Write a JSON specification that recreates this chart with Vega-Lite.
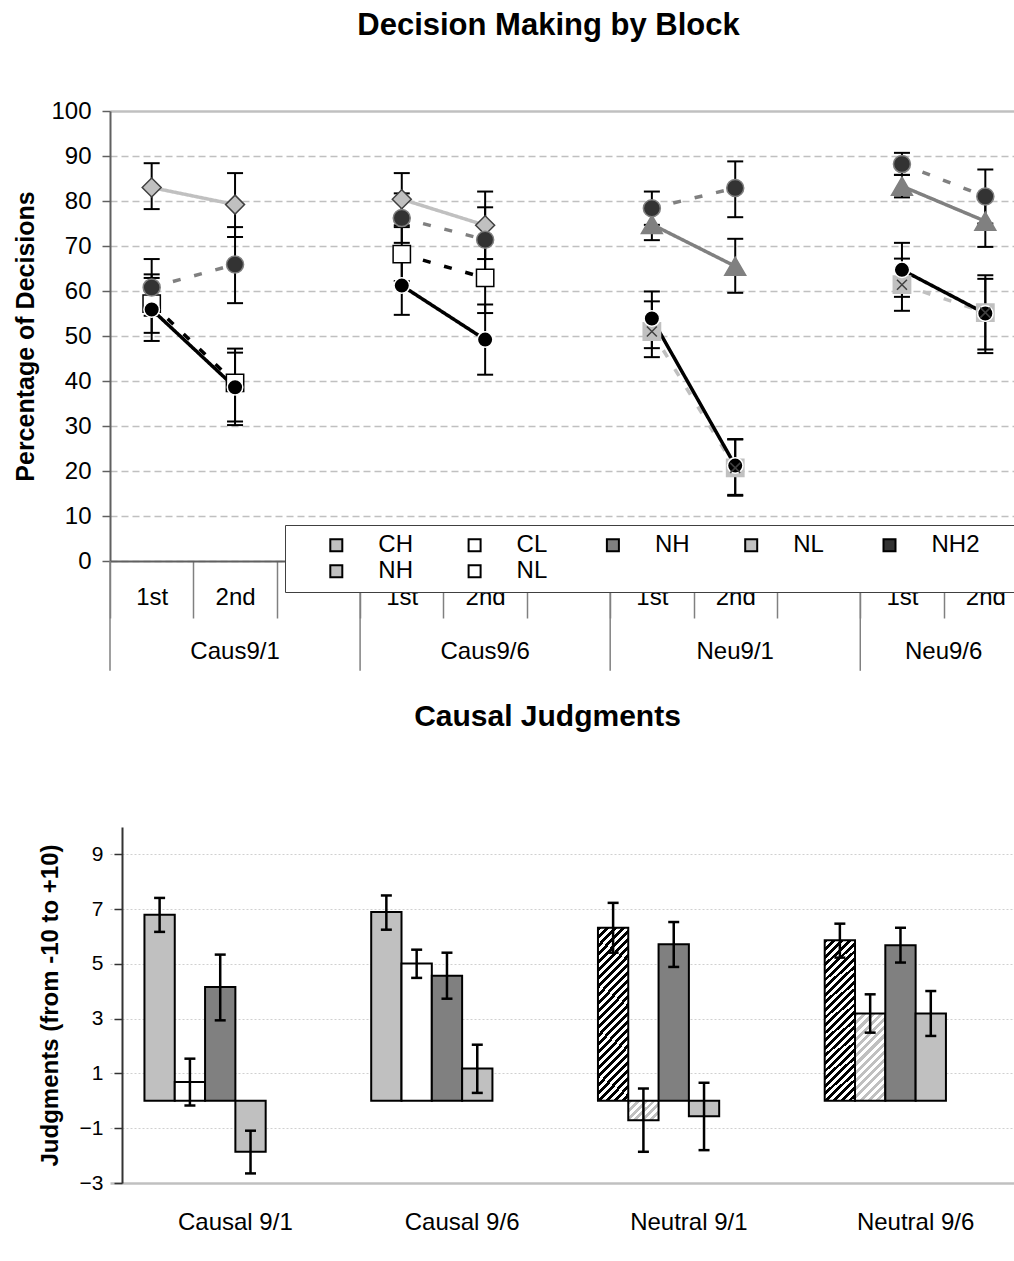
{
"$schema":"https://vega.github.io/schema/vega-lite/v6.json",
"usermeta":{"embedOptions":{"actions":false}},
"padding":{"left":13,"top":10,"right":0,"bottom":0},
"spacing":30,
"datasets":{
"decisions":[
{"condition":"Caus9/1","block":"1st","slot":"Caus9/1 1st","series":"CH","value":83.0,"lo":78.2,"hi":88.4},
{"condition":"Caus9/1","block":"2nd","slot":"Caus9/1 2nd","series":"CH","value":79.2,"lo":72.0,"hi":86.2},
{"condition":"Caus9/6","block":"1st","slot":"Caus9/6 1st","series":"CH","value":80.4,"lo":74.6,"hi":86.2},
{"condition":"Caus9/6","block":"2nd","slot":"Caus9/6 2nd","series":"CH","value":74.6,"lo":67.1,"hi":82.1},
{"condition":"Caus9/1","block":"1st","slot":"Caus9/1 1st","series":"CL","value":57.2,"lo":50.7,"hi":63.7},
{"condition":"Caus9/1","block":"2nd","slot":"Caus9/1 2nd","series":"CL","value":39.6,"lo":31.0,"hi":47.2},
{"condition":"Caus9/6","block":"1st","slot":"Caus9/6 1st","series":"CL","value":68.2,"lo":62.2,"hi":74.2},
{"condition":"Caus9/6","block":"2nd","slot":"Caus9/6 2nd","series":"CL","value":62.9,"lo":55.1,"hi":70.7},
{"condition":"Neu9/1","block":"1st","slot":"Neu9/1 1st","series":"NH","value":74.8,"lo":71.3,"hi":78.3},
{"condition":"Neu9/1","block":"2nd","slot":"Neu9/1 2nd","series":"NH","value":65.5,"lo":59.6,"hi":71.6},
{"condition":"Neu9/6","block":"1st","slot":"Neu9/6 1st","series":"NH","value":83.3,"lo":80.8,"hi":85.8},
{"condition":"Neu9/6","block":"2nd","slot":"Neu9/6 2nd","series":"NH","value":75.5,"lo":69.8,"hi":81.2},
{"condition":"Neu9/1","block":"1st","slot":"Neu9/1 1st","series":"NL","value":51.0,"lo":45.3,"hi":57.7},
{"condition":"Neu9/1","block":"2nd","slot":"Neu9/1 2nd","series":"NL","value":20.7,"lo":14.5,"hi":27.0},
{"condition":"Neu9/6","block":"1st","slot":"Neu9/6 1st","series":"NL","value":61.4,"lo":55.6,"hi":67.2},
{"condition":"Neu9/6","block":"2nd","slot":"Neu9/6 2nd","series":"NL","value":55.2,"lo":46.2,"hi":62.7},
{"condition":"Caus9/1","block":"1st","slot":"Caus9/1 1st","series":"NH2","value":60.8,"lo":54.5,"hi":67.1},
{"condition":"Caus9/1","block":"2nd","slot":"Caus9/1 2nd","series":"NH2","value":65.9,"lo":57.3,"hi":74.2},
{"condition":"Caus9/6","block":"1st","slot":"Caus9/6 1st","series":"NH2","value":76.2,"lo":70.7,"hi":81.7},
{"condition":"Caus9/6","block":"2nd","slot":"Caus9/6 2nd","series":"NH2","value":71.4,"lo":64.2,"hi":78.6},
{"condition":"Neu9/1","block":"1st","slot":"Neu9/1 1st","series":"NH2","value":78.4,"lo":74.7,"hi":82.1},
{"condition":"Neu9/1","block":"2nd","slot":"Neu9/1 2nd","series":"NH2","value":82.9,"lo":76.4,"hi":88.8},
{"condition":"Neu9/6","block":"1st","slot":"Neu9/6 1st","series":"NH2","value":88.2,"lo":85.8,"hi":90.7},
{"condition":"Neu9/6","block":"2nd","slot":"Neu9/6 2nd","series":"NH2","value":81.0,"lo":75.0,"hi":87.0},
{"condition":"Caus9/1","block":"1st","slot":"Caus9/1 1st","series":"NL2","value":55.9,"lo":48.9,"hi":62.9},
{"condition":"Caus9/1","block":"2nd","slot":"Caus9/1 2nd","series":"NL2","value":38.6,"lo":30.2,"hi":46.3},
{"condition":"Caus9/6","block":"1st","slot":"Caus9/6 1st","series":"NL2","value":61.2,"lo":54.7,"hi":67.7},
{"condition":"Caus9/6","block":"2nd","slot":"Caus9/6 2nd","series":"NL2","value":49.2,"lo":41.4,"hi":57.0},
{"condition":"Neu9/1","block":"1st","slot":"Neu9/1 1st","series":"NL2","value":53.9,"lo":47.3,"hi":59.9},
{"condition":"Neu9/1","block":"2nd","slot":"Neu9/1 2nd","series":"NL2","value":21.2,"lo":14.7,"hi":27.1},
{"condition":"Neu9/6","block":"1st","slot":"Neu9/6 1st","series":"NL2","value":64.7,"lo":58.7,"hi":70.7},
{"condition":"Neu9/6","block":"2nd","slot":"Neu9/6 2nd","series":"NL2","value":55.0,"lo":47.0,"hi":63.5}
],
"judgments":[
{"group":"Causal 9/1","series":"CH","slot":1,"value":6.80,"lo":6.17,"hi":7.41},
{"group":"Causal 9/1","series":"CL","slot":2,"value":0.69,"lo":-0.17,"hi":1.54},
{"group":"Causal 9/1","series":"NH","slot":3,"value":4.16,"lo":2.94,"hi":5.34},
{"group":"Causal 9/1","series":"NL","slot":4,"value":-1.86,"lo":-2.65,"hi":-1.09},
{"group":"Causal 9/6","series":"CH","slot":1,"value":6.90,"lo":6.25,"hi":7.50},
{"group":"Causal 9/6","series":"CL","slot":2,"value":5.02,"lo":4.49,"hi":5.52},
{"group":"Causal 9/6","series":"NH","slot":3,"value":4.57,"lo":3.73,"hi":5.41},
{"group":"Causal 9/6","series":"NL","slot":4,"value":1.18,"lo":0.29,"hi":2.05},
{"group":"Neutral 9/1","series":"NH*","slot":1,"value":6.32,"lo":5.41,"hi":7.23},
{"group":"Neutral 9/1","series":"NL*","slot":2,"value":-0.71,"lo":-1.86,"hi":0.45},
{"group":"Neutral 9/1","series":"NH","slot":3,"value":5.72,"lo":4.89,"hi":6.53},
{"group":"Neutral 9/1","series":"NL","slot":4,"value":-0.56,"lo":-1.80,"hi":0.66},
{"group":"Neutral 9/6","series":"NH*","slot":1,"value":5.86,"lo":5.23,"hi":6.47},
{"group":"Neutral 9/6","series":"NL*","slot":2,"value":3.19,"lo":2.49,"hi":3.89},
{"group":"Neutral 9/6","series":"NH","slot":3,"value":5.68,"lo":5.05,"hi":6.32},
{"group":"Neutral 9/6","series":"NL","slot":4,"value":3.19,"lo":2.37,"hi":4.01}
]
},
"vconcat":[
{
"data":{"name":"decisions"},
"width":917,"height":450,
"title":{"text":"Decision Making by Block","fontSize":31,"fontWeight":"bold","color":"black","anchor":"middle","dx":-20,"offset":33,"baseline":"alphabetic","frame":"group"},
"encoding":{
"x":{"field":"slot","type":"nominal","title":null,
"scale":{"type":"band","domain":["Caus9/1 1st","Caus9/1 2nd","Caus9/1","Caus9/6 1st","Caus9/6 2nd","Caus9/6","Neu9/1 1st","Neu9/1 2nd","Neu9/1","Neu9/6 1st","Neu9/6 2nd"],"paddingInner":0,"paddingOuter":0},
"axis":{"orient":"bottom","tickBand":"extent","tickSize":57,"tickColor":"#808080","tickWidth":1.5,"domainColor":"#606060","domainWidth":2,"labelExpr":"isString(datum.label) && indexof(datum.label, ' ') > 0 ? split(datum.label, ' ')[1] : ''","labelAngle":0,"labelPadding":-21,"labelBaseline":"middle","labelFontSize":24,"labelColor":"black","grid":false,"labelOverlap":false}}
},
"layer":[
{"mark":{"type":"rule","color":"black","strokeWidth":2},
"encoding":{"y":{"field":"lo","type":"quantitative","scale":{"domain":[0,100],"nice":false},
"axis":{"title":"Percentage of Decisions","titleFontSize":25,"titleFontWeight":"bold","titleColor":"black","titlePadding":12,"values":[0,10,20,30,40,50,60,70,80,90,100],"labelFontSize":24,"labelColor":"black","labelPadding":11,"tickSize":8,"tickColor":"#606060","tickWidth":1.5,"domainColor":"#606060","domainWidth":2,"grid":true,"gridColor":"#c0c0c0","gridDash":{"condition":{"test":"datum.value === 100","value":[]},"value":[7,4]},"gridWidth":{"condition":{"test":"datum.value === 100","value":2.5},"value":1.5}}},
"y2":{"field":"hi"}}},
{"mark":{"type":"tick","orient":"horizontal","color":"black","size":16,"thickness":2,"opacity":1},"encoding":{"y":{"field":"lo","type":"quantitative"}}},
{"mark":{"type":"tick","orient":"horizontal","color":"black","size":16,"thickness":2,"opacity":1},"encoding":{"y":{"field":"hi","type":"quantitative"}}},
{"mark":{"type":"line","strokeWidth":3.5},
"encoding":{"y":{"field":"value","type":"quantitative"},
"detail":{"field":"condition","type":"nominal"},
"strokeDash":{"field":"series","type":"nominal","scale":{"domain":["CH","CL","NH","NL","NH2","NL2"],"range":[[1,0],[8,14],[1,0],[8,14],[8,14],[1,0]]},"legend":null},
"color":{"field":"series","type":"nominal","scale":{"domain":["CH","CL","NH","NL","NH2","NL2"],"range":["#c0c0c0","#000000","#808080","#c0c0c0","#808080","#000000"]},"legend":null}}},
{"mark":{"type":"point","filled":true,"opacity":1,"strokeWidth":1.5},
"encoding":{"y":{"field":"value","type":"quantitative"},
"shape":{"condition":[
{"test":"datum.series === 'CH'","value":"diamond"},
{"test":"datum.series === 'CL' || datum.series === 'NL'","value":"square"},
{"test":"datum.series === 'NH'","value":"triangle-up"}
],"value":"circle"},
"fill":{"condition":[
{"test":"datum.series === 'CH' || datum.series === 'NL'","value":"#c0c0c0"},
{"test":"datum.series === 'CL'","value":"#ffffff"},
{"test":"datum.series === 'NH'","value":"#808080"},
{"test":"datum.series === 'NH2'","value":"#333333"}
],"value":"#000000"},
"stroke":{"condition":[
{"test":"datum.series === 'CH'","value":"#404040"},
{"test":"datum.series === 'CL'","value":"#000000"},
{"test":"datum.series === 'NH' || datum.series === 'NH2'","value":"#808080"},
{"test":"datum.series === 'NL'","value":"#c0c0c0"}
],"value":"#ffffff"},
"size":{"condition":[
{"test":"datum.series === 'CH'","value":360},
{"test":"datum.series === 'NH'","value":440},
{"test":"datum.series === 'NH2'","value":290},
{"test":"datum.series === 'NL2'","value":240}
],"value":300}}},
{"transform":[{"filter":"datum.series === 'NL'"}],
"mark":{"type":"point","shape":"M-1,-1L1,1M1,-1L-1,1","size":100,"filled":false,"stroke":"#404040","strokeWidth":1.5,"opacity":1},
"encoding":{"y":{"field":"value","type":"quantitative"}}},
{"mark":{"type":"point","filled":true,"opacity":0},
"encoding":{"y":{"field":"value","type":"quantitative"},
"shape":{"field":"series","type":"nominal","scale":{"domain":["CH","CL","NH","NL","NH2","NL2"],"range":[
"M-8.3,0H-1.6M1.6,0H8.3M0,-1.6L1.6,0L0,1.6L-1.6,0Z",
"M-8,0H-6.4M-3.4,0H-1.3M1.3,0H3.4M6.4,0H8M-1.3,-1.3H1.3V1.3H-1.3Z",
"M-8.3,0H8.3M0,-1.5L1.8,1.5L-1.8,1.5Z",
"M-8,0H-6.4M-3.4,0H-1.8M1.8,0H3.4M6.4,0H8M-1.8,-1.8H1.8V1.8H-1.8Z",
"M-8,0H-6.4M-3.4,0H-1.5M1.5,0H3.4M6.4,0H8M1.5,0L1.3,0.75L0.75,1.3L0,1.5L-0.75,1.3L-1.3,0.75L-1.5,0L-1.3,-0.75L-0.75,-1.3L0,-1.5L0.75,-1.3L1.3,-0.75Z",
"M-8.3,0H8.3M1.2,0L1.04,0.6L0.6,1.04L0,1.2L-0.6,1.04L-1.04,0.6L-1.2,0L-1.04,-0.6L-0.6,-1.04L0,-1.2L0.6,-1.04L1.04,-0.6Z"]},
"legend":{"orient":"none","legendX":-5,"legendY":569,"direction":"horizontal","columns":6,"title":null,"labelExpr":"replace(datum.label, '2', '')","labelFontSize":24,"labelColor":"black","labelOffset":73.7,"labelLimit":200,"symbolSize":100,"symbolStrokeWidth":3,"symbolOpacity":1,"symbolOffset":38.2,"columnPadding":21,"gridAlign":"all","padding":11,"strokeColor":"#404040","fillColor":"white"}},
"fill":{"field":"series","type":"nominal","scale":{"domain":["CH","CL","NH","NL","NH2","NL2"],"range":["#c0c0c0","#ffffff","#808080","#c0c0c0","#333333","#000000"]}},
"stroke":{"field":"series","type":"nominal","scale":{"domain":["CH","CL","NH","NL","NH2","NL2"],"range":["#c0c0c0","#000000","#808080","#c0c0c0","#808080","#000000"]}}}},
{"transform":[{"filter":"datum.block === '1st' && datum.series === 'NL2'"}],
"mark":{"type":"rule","color":"#808080","strokeWidth":1.5},
"encoding":{"x":{"field":"slot","type":"nominal","bandPosition":0},"y":{"datum":0,"type":"quantitative"},"y2":{"datum":-24.4}}},
{"transform":[{"filter":"datum.block === '2nd' && datum.series === 'NL2' && datum.condition !== 'Neu9/6'"}],
"mark":{"type":"text","fontSize":24,"baseline":"middle","align":"center","color":"black"},
"encoding":{"y":{"datum":-20.2,"type":"quantitative"},"text":{"field":"condition","type":"nominal"}}},
{"transform":[{"filter":"datum.block === '2nd' && datum.series === 'NL2' && datum.condition === 'Neu9/6'"}],
"mark":{"type":"text","fontSize":24,"baseline":"middle","align":"center","color":"black"},
"encoding":{"x":{"field":"slot","type":"nominal","bandPosition":0},"y":{"datum":-20.2,"type":"quantitative"},"text":{"field":"condition","type":"nominal"}}}
]
},
{
"data":{"name":"judgments"},
"width":931,"height":356,
"title":{"text":"Causal Judgments","fontSize":30,"fontWeight":"bold","color":"black","anchor":"middle","dx":-28,"offset":71,"baseline":"alphabetic","frame":"group"},
"encoding":{
"x":{"field":"group","type":"nominal","title":null,
"scale":{"type":"band","domain":["Causal 9/1","Causal 9/6","Neutral 9/1","Neutral 9/6"],"paddingInner":0,"paddingOuter":0.0529},
"axis":{"orient":"bottom","domain":false,"ticks":false,"tickSize":0,"labelAngle":0,"labelFontSize":24,"labelColor":"black","labelPadding":39,"labelBaseline":"middle","grid":false}},
"xOffset":{"field":"slot","type":"ordinal","scale":{"domain":[1,2,3,4,5,6],"paddingInner":0,"paddingOuter":0.741}}
},
"layer":[
{"mark":{"type":"bar","stroke":"black","strokeWidth":2,"opacity":1},
"encoding":{
"y":{"field":"value","type":"quantitative","scale":{"domain":[-3,10],"nice":false,"zero":false},
"axis":{"title":"Judgments (from -10 to +10)","titleFontSize":24,"titleFontWeight":"bold","titleColor":"black","titlePadding":17,"values":[-3,-2,-1,0,1,2,3,4,5,6,7,8,9,10],"labelFontSize":21,"labelColor":"black","labelPadding":11,"tickSize":8,"tickColor":"#333333","tickWidth":1.5,"domainColor":"#333333","domainWidth":2,"offset":-12,"grid":true,
"gridColor":{"condition":[{"test":"datum.value === 0","value":"#000000"},{"test":"datum.value === 10 || datum.value === -3","value":"#c0c0c0"}],"value":"#d0d0d0"},
"gridDash":{"condition":{"test":"datum.value === 0 || datum.value === 10 || datum.value === -3","value":[]},"value":[2,2]},
"gridWidth":{"condition":[{"test":"datum.value === 0","value":1.5},{"test":"datum.value === 10 || datum.value === -3","value":2.5}],"value":1}}},
"fill":{"field":"series","type":"nominal",
"scale":{"domain":["CH","CL","NH","NL","NH*","NL*"],"range":["#333333","#c0c0c0","#808080","#ffffff","#555555","#d8d8d8"]},
"condition":[
{"test":"datum.series === 'NH*'","value":{"gradient":"linear","x1":0,"y1":0,"x2":0.208,"y2":1.144,"stops":[{"offset":0,"color":"#000"},{"offset":0.02,"color":"#000"},{"offset":0.02,"color":"#fff"},{"offset":0.04,"color":"#fff"},{"offset":0.04,"color":"#000"},{"offset":0.06,"color":"#000"},{"offset":0.06,"color":"#fff"},{"offset":0.08,"color":"#fff"},{"offset":0.08,"color":"#000"},{"offset":0.1,"color":"#000"},{"offset":0.1,"color":"#fff"},{"offset":0.12,"color":"#fff"},{"offset":0.12,"color":"#000"},{"offset":0.14,"color":"#000"},{"offset":0.14,"color":"#fff"},{"offset":0.16,"color":"#fff"},{"offset":0.16,"color":"#000"},{"offset":0.18,"color":"#000"},{"offset":0.18,"color":"#fff"},{"offset":0.2,"color":"#fff"},{"offset":0.2,"color":"#000"},{"offset":0.22,"color":"#000"},{"offset":0.22,"color":"#fff"},{"offset":0.24,"color":"#fff"},{"offset":0.24,"color":"#000"},{"offset":0.26,"color":"#000"},{"offset":0.26,"color":"#fff"},{"offset":0.28,"color":"#fff"},{"offset":0.28,"color":"#000"},{"offset":0.3,"color":"#000"},{"offset":0.3,"color":"#fff"},{"offset":0.32,"color":"#fff"},{"offset":0.32,"color":"#000"},{"offset":0.34,"color":"#000"},{"offset":0.34,"color":"#fff"},{"offset":0.36,"color":"#fff"},{"offset":0.36,"color":"#000"},{"offset":0.38,"color":"#000"},{"offset":0.38,"color":"#fff"},{"offset":0.4,"color":"#fff"},{"offset":0.4,"color":"#000"},{"offset":0.42,"color":"#000"},{"offset":0.42,"color":"#fff"},{"offset":0.44,"color":"#fff"},{"offset":0.44,"color":"#000"},{"offset":0.46,"color":"#000"},{"offset":0.46,"color":"#fff"},{"offset":0.48,"color":"#fff"},{"offset":0.48,"color":"#000"},{"offset":0.5,"color":"#000"},{"offset":0.5,"color":"#fff"},{"offset":0.52,"color":"#fff"},{"offset":0.52,"color":"#000"},{"offset":0.54,"color":"#000"},{"offset":0.54,"color":"#fff"},{"offset":0.56,"color":"#fff"},{"offset":0.56,"color":"#000"},{"offset":0.58,"color":"#000"},{"offset":0.58,"color":"#fff"},{"offset":0.6,"color":"#fff"},{"offset":0.6,"color":"#000"},{"offset":0.62,"color":"#000"},{"offset":0.62,"color":"#fff"},{"offset":0.64,"color":"#fff"},{"offset":0.64,"color":"#000"},{"offset":0.66,"color":"#000"},{"offset":0.66,"color":"#fff"},{"offset":0.68,"color":"#fff"},{"offset":0.68,"color":"#000"},{"offset":0.7,"color":"#000"},{"offset":0.7,"color":"#fff"},{"offset":0.72,"color":"#fff"},{"offset":0.72,"color":"#000"},{"offset":0.74,"color":"#000"},{"offset":0.74,"color":"#fff"},{"offset":0.76,"color":"#fff"},{"offset":0.76,"color":"#000"},{"offset":0.78,"color":"#000"},{"offset":0.78,"color":"#fff"},{"offset":0.8,"color":"#fff"},{"offset":0.8,"color":"#000"},{"offset":0.82,"color":"#000"},{"offset":0.82,"color":"#fff"},{"offset":0.84,"color":"#fff"},{"offset":0.84,"color":"#000"},{"offset":0.86,"color":"#000"},{"offset":0.86,"color":"#fff"},{"offset":0.88,"color":"#fff"},{"offset":0.88,"color":"#000"},{"offset":0.9,"color":"#000"},{"offset":0.9,"color":"#fff"},{"offset":0.92,"color":"#fff"},{"offset":0.92,"color":"#000"},{"offset":0.94,"color":"#000"},{"offset":0.94,"color":"#fff"},{"offset":0.96,"color":"#fff"},{"offset":0.96,"color":"#000"},{"offset":0.98,"color":"#000"},{"offset":0.98,"color":"#fff"},{"offset":1,"color":"#fff"}]}},
{"test":"datum.series === 'NL*' && datum.value < 0","value":{"gradient":"linear","x1":0,"y1":0,"x2":1.163,"y2":0.747,"stops":[{"offset":0,"color":"#c0c0c0"},{"offset":0.08,"color":"#c0c0c0"},{"offset":0.08,"color":"#fff"},{"offset":0.16,"color":"#fff"},{"offset":0.16,"color":"#c0c0c0"},{"offset":0.24,"color":"#c0c0c0"},{"offset":0.24,"color":"#fff"},{"offset":0.32,"color":"#fff"},{"offset":0.32,"color":"#c0c0c0"},{"offset":0.4,"color":"#c0c0c0"},{"offset":0.4,"color":"#fff"},{"offset":0.48,"color":"#fff"},{"offset":0.48,"color":"#c0c0c0"},{"offset":0.56,"color":"#c0c0c0"},{"offset":0.56,"color":"#fff"},{"offset":0.64,"color":"#fff"},{"offset":0.64,"color":"#c0c0c0"},{"offset":0.72,"color":"#c0c0c0"},{"offset":0.72,"color":"#fff"},{"offset":0.8,"color":"#fff"},{"offset":0.8,"color":"#c0c0c0"},{"offset":0.88,"color":"#c0c0c0"},{"offset":0.88,"color":"#fff"},{"offset":0.96,"color":"#fff"},{"offset":0.96,"color":"#c0c0c0"},{"offset":1,"color":"#c0c0c0"}]}},
{"test":"datum.series === 'NL*'","value":{"gradient":"linear","x1":0,"y1":0,"x2":0.4168,"y2":1.202,"stops":[{"offset":0,"color":"#c0c0c0"},{"offset":0.035,"color":"#c0c0c0"},{"offset":0.035,"color":"#fff"},{"offset":0.07,"color":"#fff"},{"offset":0.07,"color":"#c0c0c0"},{"offset":0.105,"color":"#c0c0c0"},{"offset":0.105,"color":"#fff"},{"offset":0.14,"color":"#fff"},{"offset":0.14,"color":"#c0c0c0"},{"offset":0.175,"color":"#c0c0c0"},{"offset":0.175,"color":"#fff"},{"offset":0.21,"color":"#fff"},{"offset":0.21,"color":"#c0c0c0"},{"offset":0.245,"color":"#c0c0c0"},{"offset":0.245,"color":"#fff"},{"offset":0.28,"color":"#fff"},{"offset":0.28,"color":"#c0c0c0"},{"offset":0.315,"color":"#c0c0c0"},{"offset":0.315,"color":"#fff"},{"offset":0.35,"color":"#fff"},{"offset":0.35,"color":"#c0c0c0"},{"offset":0.385,"color":"#c0c0c0"},{"offset":0.385,"color":"#fff"},{"offset":0.42,"color":"#fff"},{"offset":0.42,"color":"#c0c0c0"},{"offset":0.455,"color":"#c0c0c0"},{"offset":0.455,"color":"#fff"},{"offset":0.49,"color":"#fff"},{"offset":0.49,"color":"#c0c0c0"},{"offset":0.525,"color":"#c0c0c0"},{"offset":0.525,"color":"#fff"},{"offset":0.56,"color":"#fff"},{"offset":0.56,"color":"#c0c0c0"},{"offset":0.595,"color":"#c0c0c0"},{"offset":0.595,"color":"#fff"},{"offset":0.63,"color":"#fff"},{"offset":0.63,"color":"#c0c0c0"},{"offset":0.665,"color":"#c0c0c0"},{"offset":0.665,"color":"#fff"},{"offset":0.7,"color":"#fff"},{"offset":0.7,"color":"#c0c0c0"},{"offset":0.735,"color":"#c0c0c0"},{"offset":0.735,"color":"#fff"},{"offset":0.77,"color":"#fff"},{"offset":0.77,"color":"#c0c0c0"},{"offset":0.805,"color":"#c0c0c0"},{"offset":0.805,"color":"#fff"},{"offset":0.84,"color":"#fff"},{"offset":0.84,"color":"#c0c0c0"},{"offset":0.875,"color":"#c0c0c0"},{"offset":0.875,"color":"#fff"},{"offset":0.91,"color":"#fff"},{"offset":0.91,"color":"#c0c0c0"},{"offset":0.945,"color":"#c0c0c0"},{"offset":0.945,"color":"#fff"},{"offset":0.98,"color":"#fff"},{"offset":0.98,"color":"#c0c0c0"},{"offset":1,"color":"#c0c0c0"}]}}
],
"legend":{"orient":"none","legendX":175,"legendY":414,"direction":"horizontal","columns":6,"title":null,"labelExpr":"replace(datum.label, '*', '')","labelFontSize":24,"labelColor":"black","labelOffset":30,"symbolType":"square","symbolSize":144,"symbolStrokeWidth":2,"symbolStrokeColor":"black","symbolOpacity":1,"symbolOffset":31,"columnPadding":4.3,"gridAlign":"all","padding":8.3,"strokeColor":"#404040","fillColor":"white"}}}},
{"mark":{"type":"rule","color":"black","strokeWidth":2.5},"encoding":{"y":{"field":"lo","type":"quantitative"},"y2":{"field":"hi"}}},
{"mark":{"type":"tick","orient":"horizontal","color":"black","size":11,"thickness":2.5,"opacity":1},"encoding":{"y":{"field":"lo","type":"quantitative"}}},
{"mark":{"type":"tick","orient":"horizontal","color":"black","size":11,"thickness":2.5,"opacity":1},"encoding":{"y":{"field":"hi","type":"quantitative"}}}
]
}
],
"config":{"font":"Liberation Sans","view":{"stroke":null},"axis":{"labelColor":"black","titleColor":"black"},"title":{"color":"black"},"legend":{"labelColor":"black"}}
}
